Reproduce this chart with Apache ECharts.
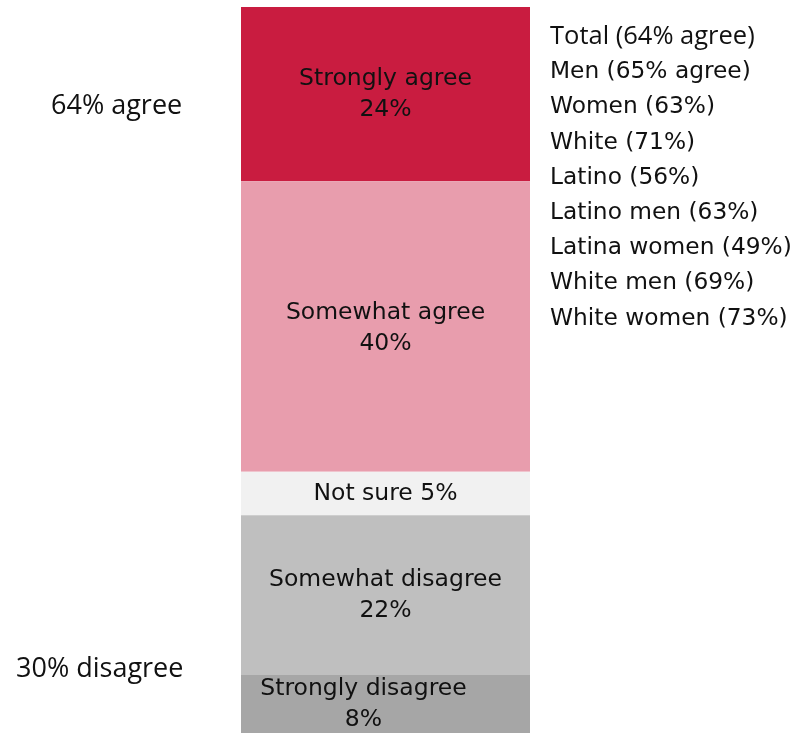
<!DOCTYPE html>
<html>
<head>
<meta charset="utf-8">
<script src="https://cdn.jsdelivr.net/npm/echarts@6/dist/echarts.min.js"></script>
<style>
html,body{margin:0;padding:0;background:#fff;}
#c{width:797px;height:733px;}
</style>
</head>
<body>
<div id="c"></div>
<script>
// Data (top of stack first)
const segments = ['Strongly agree', 'Somewhat agree', 'Not sure', 'Somewhat disagree', 'Strongly disagree'];
const values = [24, 40, 6, 22, 8];            // bar heights
const shownPct = ['24%', '40%', '5%', '22%', '8%']; // percentages printed in the labels
const colors = ['#C91C40', '#E89DAD', '#F1F1F1', '#BFBFBF', '#A6A6A6'];
const category = ['Total'];
const groupList = ['Total (64% agree)', 'Men (65% agree)', 'Women (63%)', 'White (71%)', 'Latino (56%)',
  'Latino men (63%)', 'Latina women (49%)', 'White men (69%)', 'White women (73%)'];
const sideLabels = ['64% agree', '30% disagree'];

const segFont = 'DejaVu Sans';
const series = segments.map((name, i) => ({
  name: name,
  type: 'bar',
  stack: 'all',
  barWidth: '100%',
  data: [values[i]],
  itemStyle: { color: colors[i] },
  label: {
    show: true,
    position: 'inside',
    color: '#111',
    fontFamily: segFont,
    fontSize: 23.5,
    lineHeight: 31,
    offset: i === 4 ? [-22, 0] : (i === 1 ? [0, 2] : [0, 0]),
    formatter: name === 'Not sure' ? (name + ' ' + shownPct[i]) : (name + '\n' + shownPct[i])
  }
}));

const chart = echarts.init(document.getElementById('c'));
chart.setOption({
  animation: false,
  grid: { left: 241, width: 289, top: 7, bottom: 0, containLabel: false },
  xAxis: { type: 'category', data: category, show: false },
  yAxis: { type: 'value', min: 0, max: 100, inverse: true, show: false },
  series: series,
  graphic: [
    { type: 'text', x: 51, y: 106, style: { text: sideLabels[0], font: '27px "Open Sans"', fill: '#111', verticalAlign: 'middle' } },
    { type: 'text', x: 16, y: 669, style: { text: sideLabels[1], font: '27px "Open Sans"', fill: '#111', verticalAlign: 'middle' } },
    { type: 'group', x: 550, y: 37, children: groupList.map((t, i) => ({
        type: 'text', x: 0, y: i * 35.2,
        style: { text: t, font: (i === 0 ? '25.5px "Open Sans"' : '23.3px "DejaVu Sans"'), fill: '#111', verticalAlign: 'middle' }
      })) }
  ]
});
</script>
</body>
</html>
